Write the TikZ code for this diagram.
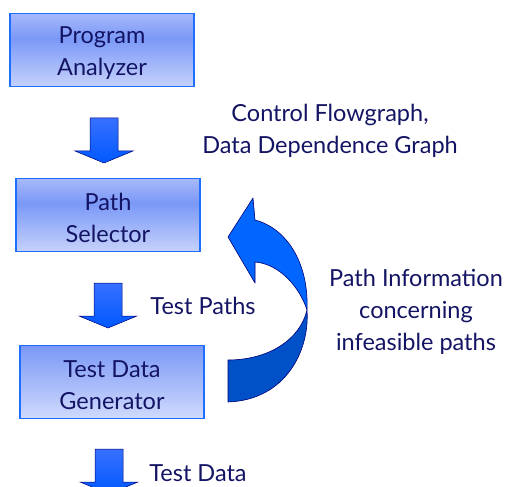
\documentclass[tikz,border=0pt]{standalone}
\usepackage{fontspec}
\setmainfont{Lato}
\usetikzlibrary{calc}

\definecolor{ink}{RGB}{20,20,100}
\definecolor{boxedge}{RGB}{30,110,255}
\definecolor{boxlow}{RGB}{198,210,251}
\definecolor{boxmid}{RGB}{122,152,247}
\definecolor{boxhigh}{RGB}{168,185,250}
\definecolor{boxlowB}{RGB}{208,218,252}
\definecolor{arrowtop}{RGB}{55,112,255}
\definecolor{arrowbot}{RGB}{0,88,255}
\definecolor{arrowedge}{RGB}{0,0,120}
\definecolor{ribbonlight}{RGB}{0,102,255}
\definecolor{ribbondark}{RGB}{0,80,200}

% box fill: light top, darker band above the middle, pale bottom
\pgfdeclareverticalshading{stageshade}{100bp}{%
  color(0bp)=(boxlow); color(25bp)=(boxlow); color(58bp)=(boxmid);
  color(75bp)=(boxhigh); color(100bp)=(boxhigh)}

% taller first line, so that two-line box texts sit a little lower
\newcommand\firstline{\rule{0pt}{23pt}}

\tikzset{
  stage/.style={draw=boxedge, line width=1.1pt, shading=stageshade,
    minimum width=184pt, minimum height=73pt, align=center,
    text=ink, font=\fontsize{23.5}{32}\selectfont},
  stagelast/.style={stage, shading=axis, top color=boxmid, bottom color=boxlowB},
  lbl/.style={text=ink, align=center, font=\fontsize{23.5}{32}\selectfont},
  blockarrow/.style={draw=arrowedge, line width=0.5pt, top color=arrowtop,
    bottom color=arrowbot, line join=miter},
  downarrow/.pic={
    \path[blockarrow] (-14,0) -- (14,0) -- (14,33) -- (29,33) -- (0,45)
      -- (-29,33) -- (-14,33) -- cycle;
    \coordinate (-top) at (0,0);
  },
}

\begin{document}
\begin{tikzpicture}[x=1pt, y=-1pt]
  \useasboundingbox (0,0) rectangle (507,487);

  % stages
  \node[stage] (analyzer) at (102,50) {\firstline Program\\Analyzer};
  \node[stage] (selector) at (108,215) {\firstline Path\\Selector};
  \node[stagelast] (generator) at (112,382) {\firstline Test Data\\Generator};

  % block arrows between the stages
  \pic (a1) at (104,118) {downarrow};
  \pic (a2) at (108,283) {downarrow};
  \pic (a3) at (109,449) {downarrow};

  % labels
  \node[lbl] (cfg) at (330,131) {Control Flowgraph,\\Data Dependence Graph};
  \node[lbl] (tp) at (203,306) {Test Paths};
  \node[lbl] (td) at (198,473) {Test Data};
  \node[lbl] (info) at (416,312) {Path Information\\concerning\\infeasible paths};

  % feedback ribbon arrow
  \coordinate (tip) at (228,237);
  \coordinate (headtop) at (253,198);
  \coordinate (notchtop) at (255,220);
  \coordinate (cross) at (307,310);
  \coordinate (notchbot) at (255,262);
  \coordinate (headbot) at (255,283);
  \coordinate (tailbot) at (228,402);
  \coordinate (tailtop) at (228,360);

  \path[draw=arrowedge, line width=0.6pt, fill=ribbondark, line join=round]
    (cross) .. controls (310,350) and (286,400) .. (tailbot)
    -- (tailtop) .. controls (268,360) and (300,340) .. (cross) -- cycle;
  \path[draw=arrowedge, line width=0.6pt, fill=ribbonlight, line join=round]
    (tip) -- (headtop) -- (notchtop)
    .. controls (286,228) and (309,262) .. (cross)
    .. controls (300,288) and (280,264) .. (notchbot)
    -- (headbot) -- cycle;
\end{tikzpicture}
\end{document}
